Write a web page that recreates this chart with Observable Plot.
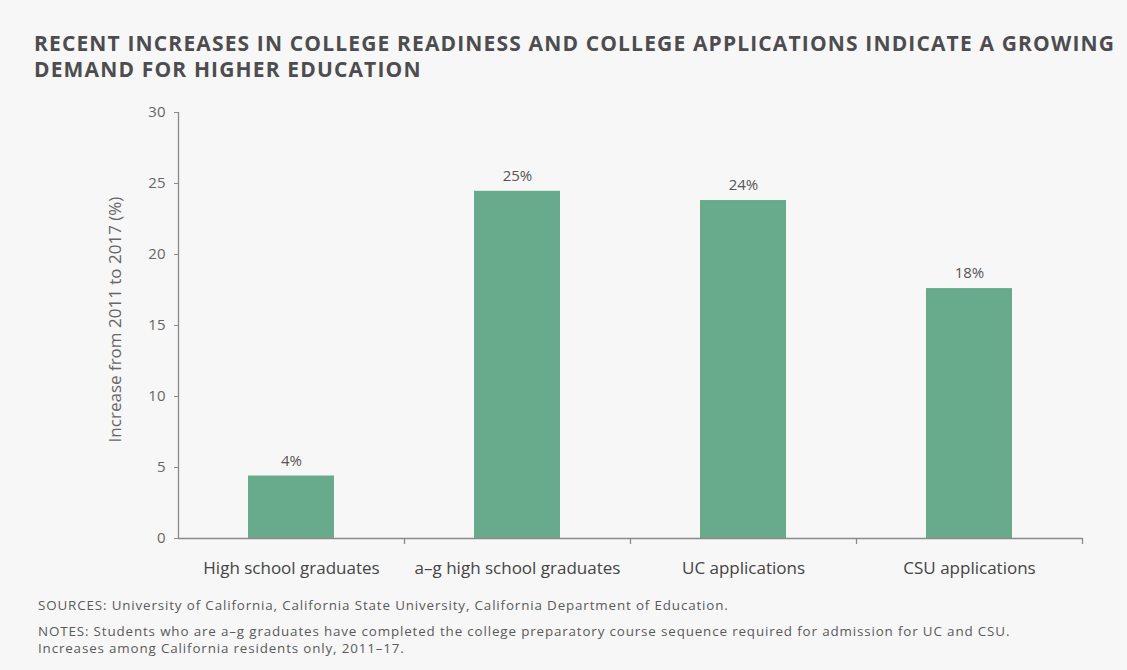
<!DOCTYPE html>
<html>
<head>
<meta charset="utf-8">
<script src="https://cdn.jsdelivr.net/npm/d3@7"></script>
<script src="https://cdn.jsdelivr.net/npm/@observablehq/plot@0.6"></script>
<style>
  html, body { margin: 0; padding: 0; background: #f7f7f7; }
  body { width: 1127px; height: 670px; position: relative; overflow: hidden; font-family: "Open Sans", sans-serif; }
  #title { position: absolute; left: 34px; top: 30px; font-size: 21px; font-weight: 700; color: #4d4d4f; line-height: 26px; letter-spacing: 1.15px; white-space: nowrap; }
  #chart { position: absolute; left: 0; top: 90px; }
  .note { position: absolute; left: 38px; font-size: 13.4px; color: #5a5a5a; line-height: 17px; letter-spacing: 0.85px; white-space: nowrap; }
</style>
</head>
<body>
<div id="title">RECENT INCREASES IN COLLEGE READINESS AND COLLEGE APPLICATIONS INDICATE A GROWING<br>DEMAND FOR HIGHER EDUCATION</div>
<div id="chart"></div>
<div class="note" style="top:597px">SOURCES: University of California, California State University, California Department of Education.</div>
<div class="note" style="top:623px">NOTES: Students who are a–g graduates have completed the college preparatory course sequence required for admission for UC and CSU.</div>
<div class="note" style="top:640px">Increases among California residents only, 2011–17.</div>
<script>
const categories = ["High school graduates", "a–g high school graduates", "UC applications", "CSU applications"];
const values = [4.4, 24.45, 23.8, 17.6];
const valueLabels = ["4%", "25%", "24%", "18%"];
const yTicks = [0, 5, 10, 15, 20, 25, 30];
const yLabel = "Increase from 2011 to 2017 (%)";

const data = categories.map((c, i) => ({category: c, value: values[i], label: valueLabels[i]}));

const W = 1127, H = 500, ML = 178, MR = 45, MT = 22, MB = 52;
const step = (W - ML - MR) / categories.length;
const axisColor = "#8a8a8a";

const chart = Plot.plot({
  width: W, height: H,
  marginLeft: ML, marginRight: MR, marginTop: MT, marginBottom: MB,
  style: {background: "transparent", fontFamily: "'Open Sans', sans-serif"},
  x: {domain: categories, paddingInner: 0.62, paddingOuter: 0.31, label: null},
  y: {domain: [0, 30], label: null},
  marks: [
    Plot.barY(data, {x: "category", y: "value", fill: "#67aa8c"}),
    Plot.ruleY([0], {stroke: axisColor, strokeWidth: 1.3}),
    Plot.ruleX([categories[0]], {x: d => d, y1: 0, y2: 30, dx: -step / 2, stroke: axisColor, strokeWidth: 1.3}),
    Plot.ruleX(categories.slice(1), {x: d => d, y1: 0, y2: 0, insetBottom: -6, dx: -step / 2, stroke: axisColor, strokeWidth: 1.3}),
    Plot.ruleX([categories[categories.length - 1]], {x: d => d, y1: 0, y2: 0, insetBottom: -6, dx: step / 2, stroke: axisColor, strokeWidth: 1.3}),
    Plot.axisY({ticks: yTicks, tickSize: 4, tickPadding: 9, fontSize: 15, color: "#666", stroke: axisColor, label: null}),
    Plot.axisX({tickSize: 0, tickPadding: 23, fontSize: 17, color: "#444", label: null, style: {letterSpacing: "1px"}}),
    Plot.text(data, {x: "category", y: "value", text: "label", dy: -15, fontSize: 15, fill: "#555", style: {letterSpacing: "1px"}}),
    Plot.text([yLabel], {frameAnchor: "left", dx: -63, dy: -6, rotate: -90, textAnchor: "middle", fontSize: 17, fill: "#666", style: {letterSpacing: "1.5px"}})
  ]
});
document.getElementById("chart").appendChild(chart);
</script>
</body>
</html>
